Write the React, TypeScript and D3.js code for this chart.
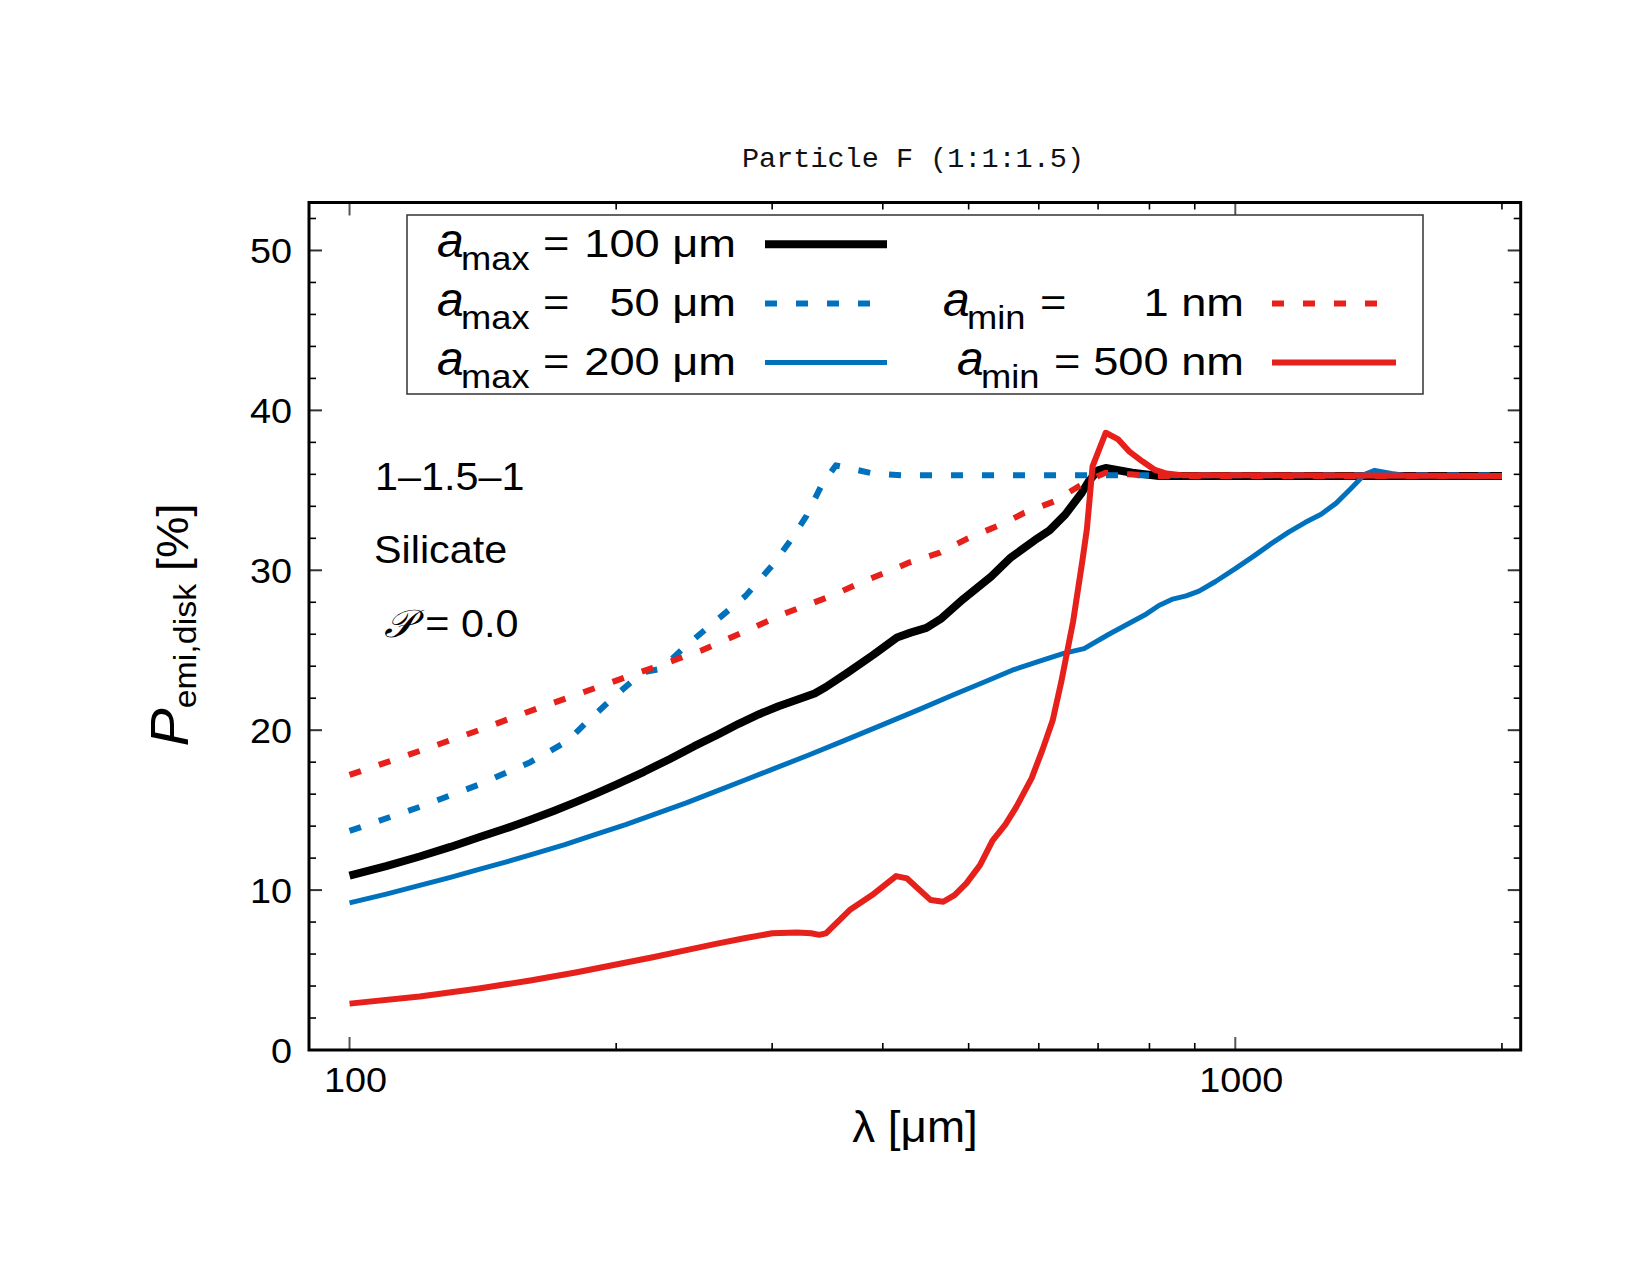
import React from "react";
import * as d3 from "d3";

const SANS = "'Liberation Sans', Arial, Helvetica, sans-serif";
const MONO = "'Liberation Mono', 'Courier New', monospace";

const WIDTH = 1650;
const HEIGHT = 1275;
const PLOT = { left: 309, right: 1520.7, top: 202.5, bottom: 1050 };

// Axes
const xDomain: [number, number] = [90, 2100];
const yDomain: [number, number] = [0, 53];
const xMajorTicks = [100, 1000];
const xMinorTicks = [200, 300, 400, 500, 600, 700, 800, 900, 2000];
const yMajorTicks = [0, 10, 20, 30, 40, 50];
const yMinorTicks = [2, 4, 6, 8, 12, 14, 16, 18, 22, 24, 26, 28, 32, 34, 36, 38, 42, 44, 46, 48, 52];

// Degree of polarisation of disk emission [%] vs wavelength [µm]
const amax100: [number, number][] = [
  [100, 10.9], [110, 11.5], [120, 12.1], [130, 12.7], [140, 13.3], [150, 13.85],
  [160, 14.4], [170, 14.95], [180, 15.5], [190, 16.05], [200, 16.6], [215, 17.4],
  [230, 18.2], [245, 19.0], [260, 19.7], [275, 20.4], [290, 21.0], [305, 21.5],
  [320, 21.9], [335, 22.3], [345, 22.7], [365, 23.6], [390, 24.7], [415, 25.8],
  [430, 26.1], [448, 26.4], [466, 27.0], [493, 28.2], [530, 29.6], [558, 30.8],
  [598, 32.0], [617, 32.5], [643, 33.5], [670, 34.8], [684, 35.6], [700, 36.25],
  [714, 36.4], [765, 36.1], [820, 35.9], [2000, 35.9],
];

const amax50: [number, number][] = [
  [100, 13.7], [120, 15.2], [140, 16.6], [160, 18.0], [176, 19.3], [186, 20.6],
  [200, 22.2], [214, 23.6], [225, 23.85], [240, 25.3], [260, 26.9], [280, 28.4],
  [300, 30.3], [315, 31.9], [328, 33.4], [341, 35.3], [354, 36.56], [391, 36.04],
  [420, 35.94], [2000, 35.94],
];

const amax200: [number, number][] = [
  [100, 9.2], [110, 9.75], [120, 10.3], [130, 10.8], [140, 11.3], [150, 11.75],
  [160, 12.2], [175, 12.85], [190, 13.5], [205, 14.1], [220, 14.7], [240, 15.45],
  [260, 16.2], [280, 16.9], [300, 17.55], [330, 18.45], [360, 19.3], [400, 20.35],
  [440, 21.3], [480, 22.2], [520, 23.0], [560, 23.75], [600, 24.3], [640, 24.8],
  [675, 25.1], [720, 26.0], [760, 26.7], [790, 27.2], [820, 27.8], [850, 28.2],
  [880, 28.4], [910, 28.7], [950, 29.3], [1000, 30.1], [1050, 30.9], [1100, 31.7],
  [1150, 32.4], [1200, 33.0], [1250, 33.5], [1300, 34.2], [1350, 35.1], [1400, 36.0],
  [1437, 36.25], [1500, 36.05], [1550, 35.95], [2000, 35.9],
];

const amin1nm: [number, number][] = [
  [100, 17.2], [120, 18.7], [140, 20.0], [160, 21.2], [180, 22.2], [200, 23.1],
  [220, 23.9], [250, 25.0], [280, 26.2], [310, 27.3], [350, 28.4], [380, 29.3],
  [413, 30.1], [429, 30.5], [464, 31.1], [499, 32.0], [546, 32.9], [578, 33.6],
  [624, 34.3], [668, 35.3], [700, 35.9], [714, 36.1], [760, 36.0], [800, 35.9],
  [2000, 35.9],
];

const amin500nm: [number, number][] = [
  [100, 2.9], [120, 3.35], [140, 3.85], [160, 4.35], [180, 4.85], [200, 5.35],
  [220, 5.8], [240, 6.25], [260, 6.65], [280, 7.0], [300, 7.3], [320, 7.35],
  [332, 7.3], [339, 7.2], [345, 7.29], [367, 8.75], [389, 9.69], [414, 10.875],
  [426, 10.73], [453, 9.375], [468, 9.27], [482, 9.69], [497, 10.42], [515, 11.56],
  [532, 13.1], [550, 14.1], [566, 15.2], [589, 17.0], [606, 18.8], [622, 20.6],
  [636, 23.0], [656, 26.8], [672, 30.6], [680, 32.6], [690, 36.5], [714, 38.6],
  [737, 38.2], [760, 37.4], [786, 36.8], [810, 36.3], [836, 36.05], [870, 35.95],
  [2000, 35.9],
];

const BLUE = "#0072bd";
const RED = "#e6201a";

type Series = { data: [number, number][]; color: string; width: number; dash?: string };

const blackSeries: Series = { data: amax100, color: "#000", width: 8 };
const blueDashSeries: Series = { data: amax50, color: BLUE, width: 6, dash: "12 19" };
const blueSeries: Series = { data: amax200, color: BLUE, width: 5 };
const redDashSeries: Series = { data: amin1nm, color: RED, width: 6, dash: "12 19" };
const redSeries: Series = { data: amin500nm, color: RED, width: 6 };

const drawOrder = [blackSeries, blueDashSeries, blueSeries, redDashSeries, redSeries];

// Key entries
const keyLeftValues = ["100 μm", "50 μm", "200 μm"];
const keyLeftSeries = [blackSeries, blueDashSeries, blueSeries];
const keyRightValues = ["1 nm", "500 nm"];
const keyRightSeries = [redDashSeries, redSeries];

const annotations = ["1–1.5–1", "Silicate"];

function T({
  x, y, size, anchor = "start", sx = 1, family = SANS, italic = false, rotate = 0, fill = "#000", children,
}: any) {
  const tr = `translate(${x},${y})${rotate ? ` rotate(${rotate})` : ""} scale(${sx},1)`;
  return (
    <text
      transform={tr}
      fontSize={size}
      textAnchor={anchor}
      fontFamily={family}
      fontStyle={italic ? "italic" : "normal"}
      fill={fill}
      style={{ whiteSpace: "pre" }}
    >
      {children}
    </text>
  );
}

export default function App() {
  const x = d3.scaleLog().domain(xDomain).range([PLOT.left, PLOT.right]);
  const y = d3.scaleLinear().domain(yDomain).range([PLOT.bottom, PLOT.top]);
  const line = d3
    .line<[number, number]>()
    .x((d) => x(d[0]))
    .y((d) => y(d[1]));

  const MAJ = 13;
  const MIN = 7;

  const keyRows = [256.7, 316, 375];
  const keyLineOffset = -12.5;

  return (
    <svg width={WIDTH} height={HEIGHT} style={{ display: "block", position: "absolute", left: 0, top: 0 }}>
      <rect width={WIDTH} height={HEIGHT} fill="#fff" />

      {/* title */}
      <T x={913} y={167} size={28.5} anchor="middle" family={MONO} fill="#111">
        Particle F (1:1:1.5)
      </T>

      {/* ticks on all four sides */}
      <g>
        {xMajorTicks.map((t) => (
          <g key={"xM" + t} stroke="#555" strokeWidth={2}>
            <line x1={x(t)} x2={x(t)} y1={PLOT.bottom} y2={PLOT.bottom - MAJ} />
            <line x1={x(t)} x2={x(t)} y1={PLOT.top} y2={PLOT.top + MAJ} />
          </g>
        ))}
        {xMinorTicks.map((t) => (
          <g key={"xm" + t} stroke="#000" strokeWidth={1.6}>
            <line x1={x(t)} x2={x(t)} y1={PLOT.bottom} y2={PLOT.bottom - MIN} />
            <line x1={x(t)} x2={x(t)} y1={PLOT.top} y2={PLOT.top + MIN} />
          </g>
        ))}
        {yMajorTicks.map((t) => (
          <g key={"yM" + t} stroke="#333" strokeWidth={2}>
            <line x1={PLOT.left} x2={PLOT.left + MAJ} y1={y(t)} y2={y(t)} />
            <line x1={PLOT.right} x2={PLOT.right - MAJ} y1={y(t)} y2={y(t)} />
          </g>
        ))}
        {yMinorTicks.map((t) => (
          <g key={"ym" + t} stroke="#000" strokeWidth={1.6}>
            <line x1={PLOT.left} x2={PLOT.left + MIN} y1={y(t)} y2={y(t)} />
            <line x1={PLOT.right} x2={PLOT.right - MIN} y1={y(t)} y2={y(t)} />
          </g>
        ))}
      </g>

      {/* tick labels */}
      {xMajorTicks.map((t) => (
        <T key={"xl" + t} x={x(t) + 6} y={1091.5} size={35} anchor="middle" sx={1.08}>
          {String(t)}
        </T>
      ))}
      {yMajorTicks.map((t) => (
        <T key={"yl" + t} x={292} y={y(t) + 12.5} size={35} anchor="end" sx={1.08}>
          {String(t)}
        </T>
      ))}

      {/* axis titles */}
      <text
        transform={`translate(915,1142) scale(1.04,1)`}
        fontSize={44}
        fontFamily={SANS}
        textAnchor="middle"
      >
        λ [μm]
      </text>
      <text transform={`translate(188,625) rotate(-90) scale(1.06,1)`} fontFamily={SANS} textAnchor="middle">
        <tspan fontSize={54} fontStyle="italic">P</tspan>
        <tspan fontSize={32} dy={8}>emi,disk</tspan>
        <tspan fontSize={44} dy={-8}> [%]</tspan>
      </text>

      {/* curves */}
      <defs>
        <clipPath id="plotClip">
          <rect x={PLOT.left} y={PLOT.top} width={PLOT.right - PLOT.left} height={PLOT.bottom - PLOT.top} />
        </clipPath>
      </defs>
      <g fill="none" clipPath="url(#plotClip)">
        {drawOrder.map((s, i) => (
          <path
            key={i}
            d={line(s.data) || ""}
            stroke={s.color}
            strokeWidth={s.width}
            strokeDasharray={s.dash}
            strokeLinejoin="round"
            strokeLinecap="butt"
          />
        ))}
      </g>

      {/* annotations */}
      <T x={375} y={490} size={39} sx={1.06}>{annotations[0]}</T>
      <T x={374} y={562.7} size={39} sx={1.06}>{annotations[1]}</T>
      <text transform="translate(384,636.7) scale(1.06,1)" fontSize={39} fontFamily={SANS}>
        <tspan fontFamily="'DejaVu Serif', 'DejaVu Sans', serif" fontStyle="italic">𝒫</tspan>
        <tspan> = 0.0</tspan>
      </text>

      {/* key */}
      <rect x={407} y={215} width={1016} height={179} fill="#fff" stroke="#333" strokeWidth={1.5} />
      {keyLeftValues.map((v, i) => {
        const by = keyRows[i];
        const s = keyLeftSeries[i];
        return (
          <g key={"kl" + i}>
            <T x={437} y={by} size={48} italic>a</T>
            <T x={461} y={by + 13} size={33} sx={1.1}>max</T>
            <T x={543} y={by} size={38} sx={1.19}>=</T>
            <T x={736} y={by} size={38} sx={1.19} anchor="end">{v}</T>
            <line
              x1={765}
              x2={887}
              y1={by + keyLineOffset}
              y2={by + keyLineOffset}
              stroke={s.color}
              strokeWidth={s.width}
              strokeDasharray={s.dash}
            />
          </g>
        );
      })}
      {keyRightValues.map((v, i) => {
        const by = keyRows[i + 1];
        const s = keyRightSeries[i];
        const ax = i === 0 ? 943 : 957;
        return (
          <g key={"kr" + i}>
            <T x={ax} y={by} size={48} italic>a</T>
            <T x={ax + 24} y={by + 13} size={33} sx={1.1}>min</T>
            <T x={ax + 97} y={by} size={38} sx={1.19}>=</T>
            <T x={1244} y={by} size={38} sx={1.19} anchor="end">{v}</T>
            <line
              x1={1272}
              x2={1396}
              y1={by + keyLineOffset}
              y2={by + keyLineOffset}
              stroke={s.color}
              strokeWidth={s.width}
              strokeDasharray={s.dash}
            />
          </g>
        );
      })}

      {/* frame */}
      <rect
        x={PLOT.left}
        y={PLOT.top}
        width={PLOT.right - PLOT.left}
        height={PLOT.bottom - PLOT.top}
        fill="none"
        stroke="#000"
        strokeWidth={3}
      />
    </svg>
  );
}
